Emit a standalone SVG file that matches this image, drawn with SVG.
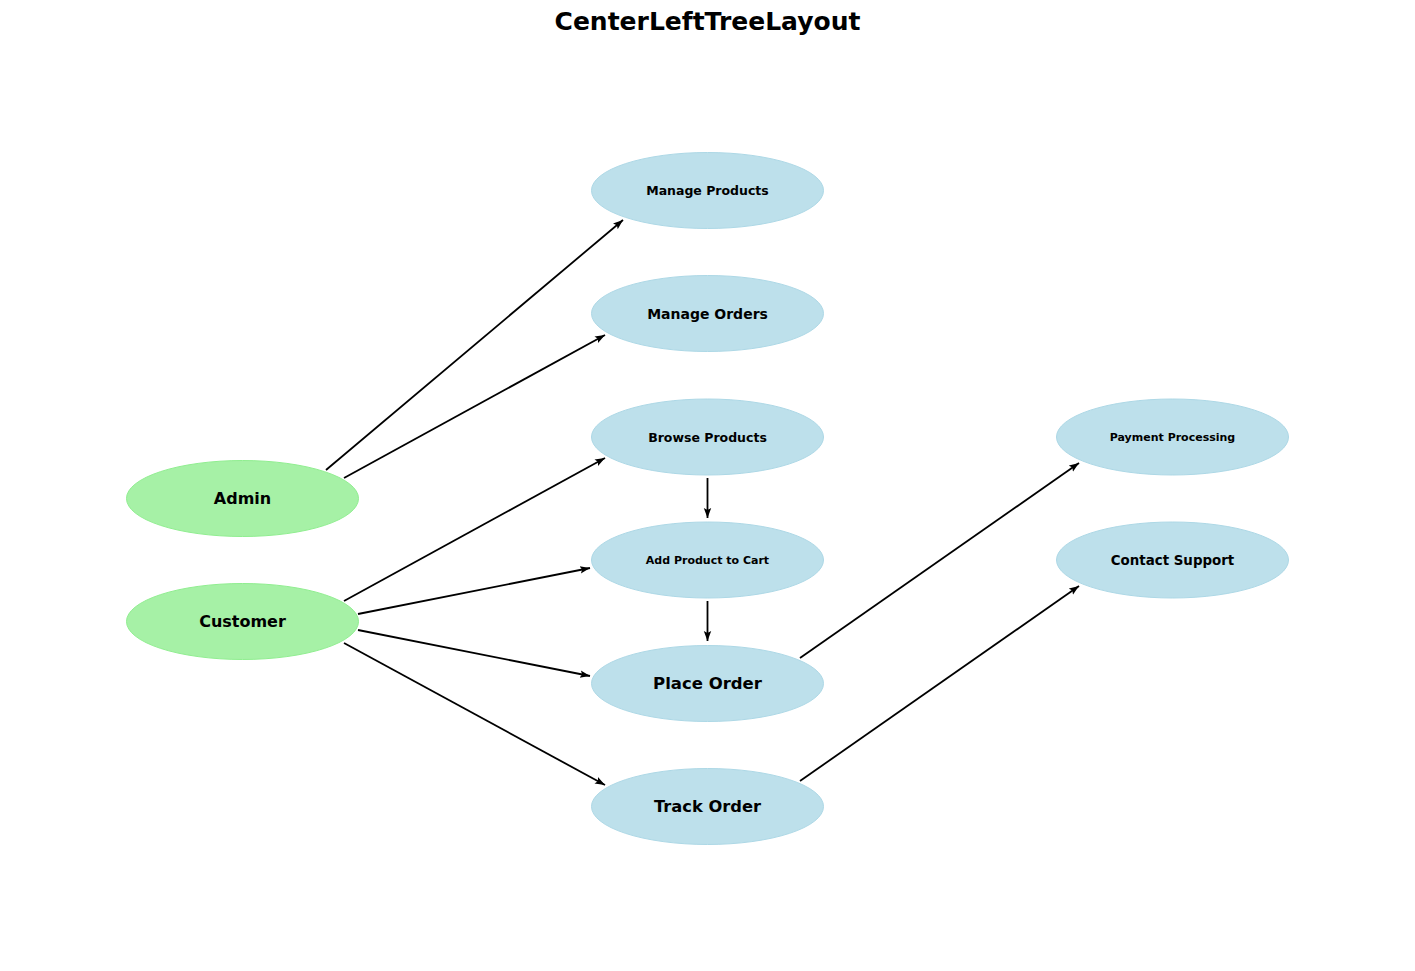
<svg xmlns="http://www.w3.org/2000/svg" width="1415" height="971" viewBox="0 0 1415 971">
<defs>
<style>
.t{font-family:"DejaVu Sans",sans-serif;font-weight:bold;fill:#000;text-anchor:middle;dominant-baseline:central}
.b{fill:#add8e6;fill-opacity:0.8;stroke:#add8e6;stroke-width:1}
.g{fill:#90ee90;fill-opacity:0.8;stroke:#90ee90;stroke-width:1}
.e{stroke:#000;stroke-width:1.8;fill:none;marker-end:url(#ah)}
</style>
<marker id="ah" markerUnits="userSpaceOnUse" markerWidth="11" markerHeight="9" refX="10" refY="4.5" orient="auto">
<path d="M0,0.8 L10,4.5 L0,8.2 L2,4.5 z" fill="#000"/>
</marker>
</defs>
<rect width="1415" height="971" fill="#fff"/>
<text x="707.5" y="21" class="t" style="font-size:25px">CenterLeftTreeLayout</text>
<g id="edges">
<line class="e" x1="326" y1="470" x2="623" y2="220"/>
<line class="e" x1="344" y1="478" x2="605" y2="335"/>
<line class="e" x1="344" y1="601" x2="605" y2="458"/>
<line class="e" x1="358" y1="614" x2="590" y2="568"/>
<line class="e" x1="358" y1="630" x2="590" y2="676"/>
<line class="e" x1="344" y1="643" x2="605" y2="785"/>
<line class="e" x1="707.5" y1="478" x2="707.5" y2="518"/>
<line class="e" x1="707.5" y1="601" x2="707.5" y2="641"/>
<line class="e" x1="800" y1="658" x2="1079" y2="463"/>
<line class="e" x1="800" y1="781" x2="1079" y2="586"/>
</g>
<g id="admin"><ellipse class="g" cx="242.5" cy="498.5" rx="116" ry="38"/><text class="t" x="242.5" y="498.5" style="font-size:16px">Admin</text></g>
<g id="customer"><ellipse class="g" cx="242.5" cy="621.5" rx="116" ry="38"/><text class="t" x="242.5" y="621.5" style="font-size:16px">Customer</text></g>
<g id="manage-products"><ellipse class="b" cx="707.5" cy="190.5" rx="116" ry="38"/><text class="t" x="707.5" y="190.5" style="font-size:12.5px">Manage Products</text></g>
<g id="manage-orders"><ellipse class="b" cx="707.5" cy="313.5" rx="116" ry="38"/><text class="t" x="707.5" y="313.5" style="font-size:14px">Manage Orders</text></g>
<g id="browse-products"><ellipse class="b" cx="707.5" cy="437" rx="116" ry="38"/><text class="t" x="707.5" y="437" style="font-size:12.5px">Browse Products</text></g>
<g id="add-product"><ellipse class="b" cx="707.5" cy="560" rx="116" ry="38"/><text class="t" x="707.5" y="560" style="font-size:11px">Add Product to Cart</text></g>
<g id="place-order"><ellipse class="b" cx="707.5" cy="683.5" rx="116" ry="38"/><text class="t" x="707.5" y="683.5" style="font-size:16.5px">Place Order</text></g>
<g id="track-order"><ellipse class="b" cx="707.5" cy="806.5" rx="116" ry="38"/><text class="t" x="707.5" y="806.5" style="font-size:16.3px">Track Order</text></g>
<g id="payment"><ellipse class="b" cx="1172.5" cy="437" rx="116" ry="38"/><text class="t" x="1172.5" y="437" style="font-size:11px">Payment Processing</text></g>
<g id="contact"><ellipse class="b" cx="1172.5" cy="560" rx="116" ry="38"/><text class="t" x="1172.5" y="560" style="font-size:13.4px">Contact Support</text></g>
</svg>
